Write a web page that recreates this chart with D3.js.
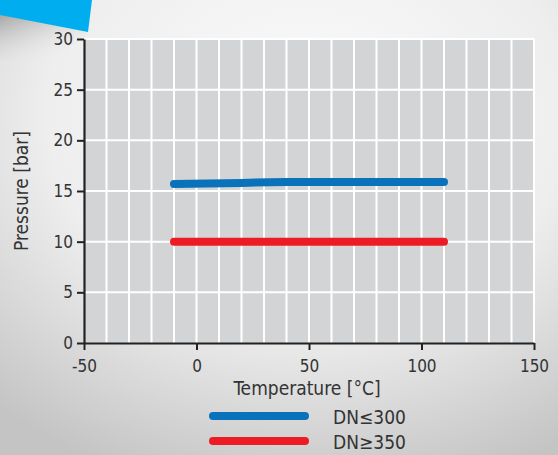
<!DOCTYPE html>
<html><head><meta charset="utf-8">
<script src="https://cdn.jsdelivr.net/npm/d3@7"></script>
<style>body{margin:0;}svg{display:block;}</style>
</head><body>
<script>
const xTicks = [-50, 0, 50, 100, 150];
const yTicks = [0, 5, 10, 15, 20, 25, 30];
const seriesNames = ["DN≤300", "DN≥350"];
const seriesColors = ["#0a72bb", "#ed1c24"];
const tempDN300 = [-10, 20, 40, 110];
const presDN300 = [15.7, 15.8, 15.9, 15.9];
const tempDN350 = [-10, 110];
const presDN350 = [10, 10];

const W = 558, H = 455;
const svg = d3.select("body").append("svg").attr("width", W).attr("height", H);
const defs = svg.append("defs");
const rg = defs.append("radialGradient").attr("id","bg").attr("cx","0.55").attr("cy","0.25").attr("r","0.85");
rg.append("stop").attr("offset","0").attr("stop-color","#fbfbfb");
rg.append("stop").attr("offset","0.55").attr("stop-color","#eeeeee");
rg.append("stop").attr("offset","1").attr("stop-color","#c4c4c4");
svg.append("rect").attr("width",W).attr("height",H).attr("fill","url(#bg)");
const lg = defs.append("linearGradient").attr("id","sh").attr("x1","0").attr("y1","0").attr("x2","0.6").attr("y2","1");
lg.append("stop").attr("offset","0").attr("stop-color","#8a8a8a");
lg.append("stop").attr("offset","1").attr("stop-color","#f0f0f0").attr("stop-opacity","0");
svg.append("path").attr("d","M0,14 L88,32 L60,60 L0,60 Z").attr("fill","url(#sh)").attr("opacity",0.7);
svg.append("path").attr("d","M0,0 L92,0 L88,32 L0,15 Z").attr("fill","#00aeef");

const m = {l:84, r:534, t:39, b:343};
const x = d3.scaleLinear().domain([-50,150]).range([m.l, m.r]);
const y = d3.scaleLinear().domain([0,30]).range([m.b, m.t]);

svg.append("rect").attr("x",m.l).attr("y",m.t).attr("width",m.r-m.l).attr("height",m.b-m.t).attr("fill","#d3d4d6");
const g = svg.append("g");
g.selectAll("line.vx").data(d3.range(-40,151,10)).join("line")
 .attr("x1",d=>x(d)).attr("x2",d=>x(d)).attr("y1",m.t).attr("y2",m.b)
 .attr("stroke","#fff").attr("stroke-width",2);
g.selectAll("line.hy").data(yTicks.slice(1)).join("line")
 .attr("y1",d=>y(d)).attr("y2",d=>y(d)).attr("x1",m.l).attr("x2",m.r)
 .attr("stroke","#fff").attr("stroke-width",2);

const font = "'Liberation Sans Narrow','DejaVu Sans Condensed','Open Sans',sans-serif";
const ax = svg.append("g").attr("transform",`translate(0,${m.b})`)
 .call(d3.axisBottom(x).tickValues(xTicks).tickFormat(d=>String(d)).tickSize(7).tickSizeOuter(0).tickPadding(10));
const ay = svg.append("g").attr("transform",`translate(${m.l},0)`)
 .call(d3.axisLeft(y).tickValues(yTicks).tickFormat(d=>String(d)).tickSize(7).tickSizeOuter(0).tickPadding(4));
[ax, ay].forEach(a => {
  a.select(".domain").attr("stroke","#222").attr("stroke-width",2.2);
  a.selectAll(".tick line").attr("stroke","#222").attr("stroke-width",2);
  a.selectAll("text").attr("fill","#333").style("font-family",font).style("font-size","17px");
});

const line = d3.line().x(d=>x(d[0])).y(d=>y(d[1]));
const data = [d3.zip(tempDN300, presDN300), d3.zip(tempDN350, presDN350)];
svg.selectAll("path.s").data(data).join("path")
 .attr("d", line).attr("fill","none").attr("stroke",(d,i)=>seriesColors[i])
 .attr("stroke-width",8).attr("stroke-linecap","round").attr("stroke-linejoin","round");

svg.append("text").attr("x",307).attr("y",395).attr("text-anchor","middle")
 .style("font-family",font).style("font-size","19px").attr("fill","#333").text("Temperature [°C]");
svg.append("text").attr("transform","translate(28,191) rotate(-90)").attr("text-anchor","middle")
 .style("font-family",font).style("font-size","19px").attr("fill","#333").text("Pressure [bar]");

const leg = svg.selectAll("g.leg").data(seriesNames).join("g")
 .attr("transform",(d,i)=>`translate(0,${416 + i*25})`);
leg.append("line").attr("x1",213).attr("x2",305).attr("y1",0).attr("y2",0)
 .attr("stroke",(d,i)=>seriesColors[i]).attr("stroke-width",8).attr("stroke-linecap","round");
leg.append("text").attr("x",333).attr("y",8).text(d=>d)
 .style("font-family",font).style("font-size","19px").attr("fill","#333");
</script>
</body></html>
